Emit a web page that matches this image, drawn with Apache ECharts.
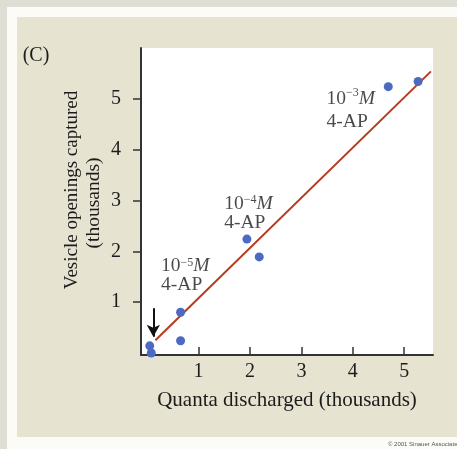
<!DOCTYPE html>
<html>
<head>
<meta charset="utf-8">
<script src="https://cdn.jsdelivr.net/npm/echarts@6/dist/echarts.min.js"></script>
<style>
  html, body { margin: 0; padding: 0; background: #dfded4; }
  #chart { width: 457px; height: 449px; }
</style>
</head>
<body>
<div id="chart"></div>
<script>
// Quanta discharged vs. vesicle openings captured (both in thousands)
var quantaX  = [0.05, 0.08, 0.65, 0.65, 1.94, 2.18, 4.69, 5.27];
var vesicleY = [0.14, 0.00, 0.80, 0.24, 2.24, 1.89, 5.24, 5.34];

// Regression line end points
var fitX = [0.16, 5.52];
var fitY = [0.25, 5.54];

// 4-AP concentration notes (anchor = left / vertical middle of the text block)
var noteX   = [0.27, 1.50, 3.49];
var noteY   = [1.52, 2.75, 4.78];
var noteExp = ['\u22125', '\u22124', '\u22123'];
var noteGap = [19, 19, 23];

// Arrow marking the control point
var arrowX = 0.12;
var arrowTop = 0.88;
var arrowTip = 0.32;

var tickValues = [1, 2, 3, 4, 5];

var SERIF = '"Liberation Serif", "Times New Roman", serif';
var INK = '#1c1c1c';

function noteRich(gap) {
  return {
    n: { fontFamily: SERIF, fontSize: 19.5, color: INK, lineHeight: gap },
    s: { fontFamily: SERIF, fontSize: 12, color: INK, lineHeight: 12, verticalAlign: 'top' },
    m: { fontFamily: SERIF, fontSize: 19.5, color: INK, lineHeight: gap, fontStyle: 'italic' }
  };
}

var notes = noteX.map(function (x, i) {
  return {
    value: [x, noteY[i]],
    label: {
      show: true,
      position: [0, 0],
      align: 'left',
      verticalAlign: 'middle',
      formatter: '{n|10}{s|' + noteExp[i] + '}{m|M}\n{n|4-AP}',
      rich: noteRich(noteGap[i])
    }
  };
});

var chart = echarts.init(document.getElementById('chart'), null, { renderer: 'canvas' });

chart.setOption({
  animation: false,
  backgroundColor: '#dfded4',
  graphic: [
    { type: 'rect', shape: { x: 7, y: 7, width: 450, height: 442 }, style: { fill: '#fbfbf8' }, z: -10 },
    { type: 'rect', shape: { x: 17, y: 17, width: 440, height: 420 }, style: { fill: '#e6e3d1' }, z: -9 },
    { type: 'text', x: 36, y: 56, style: { text: '(C)', font: '20px ' + SERIF, fill: INK, align: 'center', verticalAlign: 'middle' } },
    { type: 'text', x: 72, y: 190, rotation: Math.PI / 2,
      style: { text: 'Vesicle openings captured', font: '19px ' + SERIF, fill: INK, align: 'center', verticalAlign: 'middle' } },
    { type: 'text', x: 94, y: 203, rotation: Math.PI / 2,
      style: { text: '(thousands)', font: '19.5px ' + SERIF, fill: INK, align: 'center', verticalAlign: 'middle' } },
    { type: 'text', x: 388, y: 444,
      style: { text: '\u00a9 2001 Sinauer Associates, Inc.', font: '6px "Liberation Sans", sans-serif', fill: '#555', verticalAlign: 'middle' } }
  ],
  grid: {
    left: 141, top: 48, width: 292, height: 307,
    show: true, backgroundColor: '#ffffff', borderWidth: 0
  },
  xAxis: {
    type: 'value',
    min: -0.12, max: 5.56,
    name: 'Quanta discharged (thousands)',
    nameLocation: 'middle',
    nameGap: 35,
    nameTextStyle: { fontFamily: SERIF, fontSize: 21, color: INK },
    splitLine: { show: false },
    axisLine: { show: true, onZero: false, lineStyle: { color: '#333333', width: 2 } },
    axisTick: { show: true, inside: true, length: 8, customValues: tickValues, lineStyle: { color: '#333333', width: 1.5 } },
    axisLabel: { show: true, margin: 7, customValues: tickValues, fontFamily: SERIF, fontSize: 20, color: INK }
  },
  yAxis: {
    type: 'value',
    min: -0.04, max: 6.0,
    splitLine: { show: false },
    axisLine: { show: true, onZero: false, lineStyle: { color: '#333333', width: 2 } },
    axisTick: { show: true, inside: false, length: 8, customValues: tickValues, lineStyle: { color: '#333333', width: 1.5 } },
    axisLabel: { show: true, margin: 20, customValues: tickValues, fontFamily: SERIF, fontSize: 20, color: INK }
  },
  series: [
    {
      type: 'line',
      data: fitX.map(function (x, i) { return [x, fitY[i]]; }),
      showSymbol: false,
      silent: true,
      lineStyle: { color: '#b53a1e', width: 2 },
      z: 2
    },
    {
      type: 'scatter',
      data: quantaX.map(function (x, i) { return [x, vesicleY[i]]; }),
      symbol: 'circle',
      symbolSize: 9,
      itemStyle: { color: '#4c6ac2', opacity: 1 },
      z: 3
    },
    {
      type: 'scatter',
      data: notes,
      symbolSize: 0,
      silent: true,
      z: 4,
      markLine: {
        silent: true,
        animation: false,
        symbol: ['none', 'arrow'],
        symbolSize: [10, 12],
        label: { show: false },
        lineStyle: { color: '#111111', width: 2, type: 'solid' },
        data: [[{ coord: [arrowX, arrowTop] }, { coord: [arrowX, arrowTip] }]]
      }
    }
  ]
});
</script>
</body>
</html>
